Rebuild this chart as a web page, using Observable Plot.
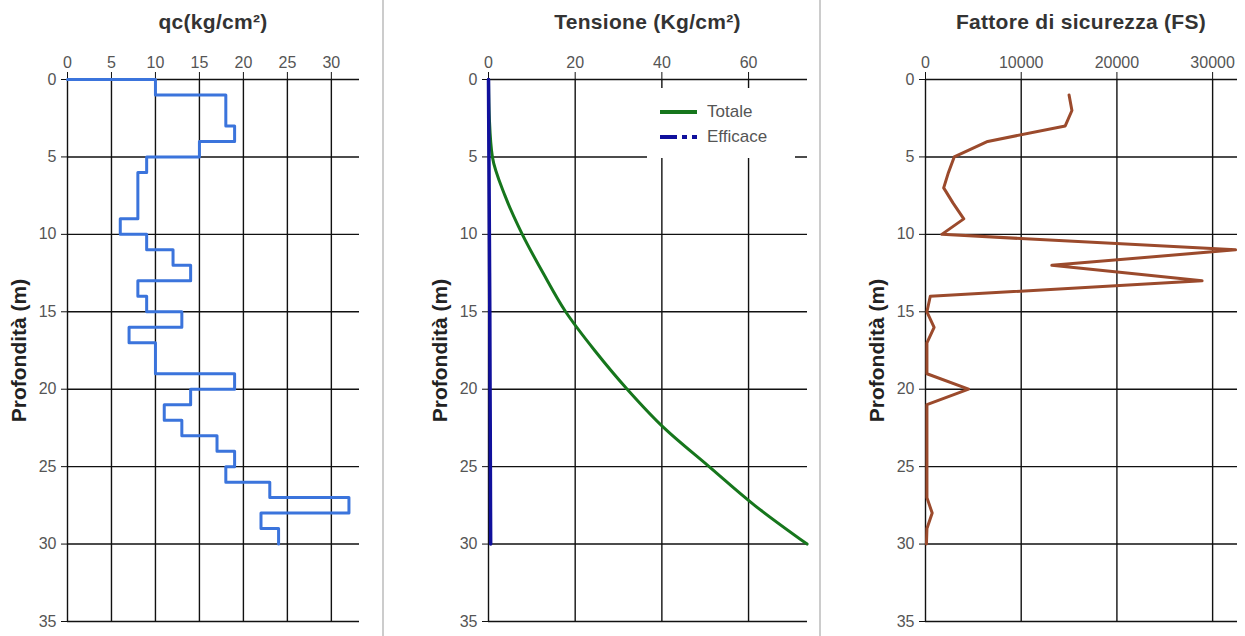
<!DOCTYPE html>
<html><head><meta charset="utf-8">
<script src="https://cdn.jsdelivr.net/npm/d3@7"></script>
<script src="https://cdn.jsdelivr.net/npm/@observablehq/plot@0.6"></script>
<style>
body{margin:0;background:#fff;}
#wrap{position:relative;width:1245px;height:636px;overflow:hidden;font-family:"Liberation Sans",Arial,sans-serif;background:#fff;}
.panel{position:absolute;top:0;}
.title{position:absolute;top:9px;line-height:26px;font-weight:bold;font-size:21px;letter-spacing:0.3px;color:#333;white-space:nowrap;transform:translateX(-50%);}
.sep{position:absolute;top:0;width:2px;height:636px;background:#cccccc;}
.legend{position:absolute;left:647px;top:88px;width:148px;height:70px;background:#fff;}
.legend .row{position:absolute;left:0;height:22px;display:flex;align-items:center;font-size:17px;color:#555;}
.legend svg{margin-left:13px;margin-right:10px;}
</style></head>
<body>
<div id="wrap"></div>
<script>
// ---- Data ----
const depthTicks = [0, 5, 10, 15, 20, 25, 30, 35];

// qc (kg/cm²): constant per 1 m layer, layer top depth
const qcDepthTop = [0,1,2,3,4,5,6,7,8,9,10,11,12,13,14,15,16,17,18,19,20,21,22,23,24,25,26,27,28,29];
const qcValues   = [10,18,18,19,15,9,8,8,8,6,9,12,14,8,9,13,7,10,10,19,14,11,13,17,19,18,23,32,22,24];
const qcBottom = 30;
const qcTicks = [0, 5, 10, 15, 20, 25, 30];

// Tensione (Kg/cm²)
const tensDepth   = [0, 2.5, 5, 7.5, 10, 12.5, 15, 17.5, 20, 22.5, 25, 27.5, 30];
const totale      = [0, 0.2, 0.9, 3.8, 7.8, 12.6, 17.8, 24.5, 32, 40.5, 50.9, 61.4, 73.5];
const efficace    = [0, 0.05, 0.1, 0.15, 0.2, 0.25, 0.3, 0.33, 0.36, 0.4, 0.43, 0.46, 0.5];
const tensTicks = [0, 20, 40, 60];

// Fattore di sicurezza (FS)
const fsDepth  = [1,2,3,4,5,6,7,8,9,10,11,12,13,14,15,16,17,18,19,20,21,22,23,24,25,26,27,28,29,30];
const fsValues = [15000,15300,14600,6500,3000,2400,1900,2900,4000,1700,32400,13200,28900,500,150,900,150,150,150,4500,150,150,150,150,150,150,150,700,150,100];
const fsTicks = [0, 10000, 20000, 30000];

const titles = ["qc(kg/cm²)", "Tensione (Kg/cm²)", "Fattore di sicurezza (FS)"];
const yLabel = "Profondità (m)";
const legendItems = ["Totale", "Efficace"];

// ---- Build ----
const wrap = document.getElementById("wrap");
const H = 636, MT = 79, MB = 15;

function panel({left, width, mL, mR, xDomain, xTicks, marks}) {
  const chart = Plot.plot({
    width, height: H,
    marginLeft: mL, marginRight: mR, marginTop: MT, marginBottom: MB,
    style: {fontFamily: "'Liberation Sans', Arial, sans-serif", fontSize: "16px", background: "transparent", overflow: "visible"},
    x: {domain: xDomain, axis: null},
    y: {domain: [0, 35], reverse: true, axis: null},
    marks: [
      Plot.gridX(xTicks, {stroke: "#111", strokeOpacity: 1, strokeWidth: 1.4}),
      Plot.gridY(depthTicks, {stroke: "#111", strokeOpacity: 1, strokeWidth: 1.4}),
      Plot.axisX(xTicks, {anchor: "top", tickSize: 8, tickPadding: 4, label: null, tickFormat: d => String(d), stroke: "#111", fill: "#555", fontSize: 16}),
      Plot.axisY(depthTicks, {anchor: "left", tickSize: 6, tickPadding: 5, label: null, tickFormat: d => String(d), stroke: "#111", fill: "#555", fontSize: 16}),
      ...marks,
      Plot.text([yLabel], {frameAnchor: "left", rotate: -90, dx: -48, textAnchor: "middle", lineAnchor: "middle", fontWeight: "bold", fontSize: 21, fill: "#222"})
    ]
  });
  chart.classList.add("panel");
  chart.style.left = left + "px";
  wrap.appendChild(chart);
}

// Panel 1: qc step profile
const qcData = [{x: 0, y: 0}]
  .concat(qcDepthTop.map((d, i) => ({x: qcValues[i], y: d})))
  .concat([{x: qcValues[qcValues.length - 1], y: qcBottom}]);
panel({
  left: 0, width: 383, mL: 67, mR: 24, xDomain: [0, 33.2], xTicks: qcTicks,
  marks: [Plot.line(qcData, {x: "x", y: "y", curve: "step-before", stroke: "#3b74dc", strokeWidth: 3})]
});

// Panel 2: Tensione
const totData = tensDepth.map((d, i) => ({d, v: totale[i]}));
const effData = tensDepth.map((d, i) => ({d, v: efficace[i]}));
panel({
  left: 383, width: 437, mL: 105, mR: 13, xDomain: [0, 73.6], xTicks: tensTicks,
  marks: [
    Plot.line(totData, {x: "v", y: "d", curve: "monotone-y", stroke: "#16761c", strokeWidth: 3}),
    Plot.line(effData, {x: "v", y: "d", stroke: "#10109c", strokeWidth: 3.5})
  ]
});

// Panel 3: FS
const fsData = fsDepth.map((d, i) => ({d, v: fsValues[i]}));
panel({
  left: 820, width: 425, mL: 105, mR: 8, xDomain: [0, 32600], xTicks: fsTicks,
  marks: [Plot.line(fsData, {x: "v", y: "d", stroke: "#9b4a2c", strokeWidth: 3})]
});

// separators
[382, 819].forEach(x => {
  const s = document.createElement("div");
  s.className = "sep"; s.style.left = x + "px"; wrap.appendChild(s);
});

// titles
[213, 647.5, 1081].forEach((cx, i) => {
  const t = document.createElement("div");
  t.className = "title"; t.style.left = cx + "px"; t.textContent = titles[i];
  wrap.appendChild(t);
});

// legend
const leg = document.createElement("div");
leg.className = "legend";
const swatches = [
  '<svg width="37" height="6"><line x1="0" y1="3" x2="37" y2="3" stroke="#16761c" stroke-width="4"/></svg>',
  '<svg width="37" height="6"><line x1="0" y1="3" x2="37" y2="3" stroke="#10109c" stroke-width="4" stroke-dasharray="17 5 5 5 5 5"/></svg>'
];
legendItems.forEach((name, i) => {
  const r = document.createElement("div");
  r.className = "row";
  r.style.top = (13 + i * 25) + "px";
  r.innerHTML = swatches[i] + "<span></span>";
  r.querySelector("span").textContent = name;
  leg.appendChild(r);
});
wrap.appendChild(leg);
</script>
</body></html>
